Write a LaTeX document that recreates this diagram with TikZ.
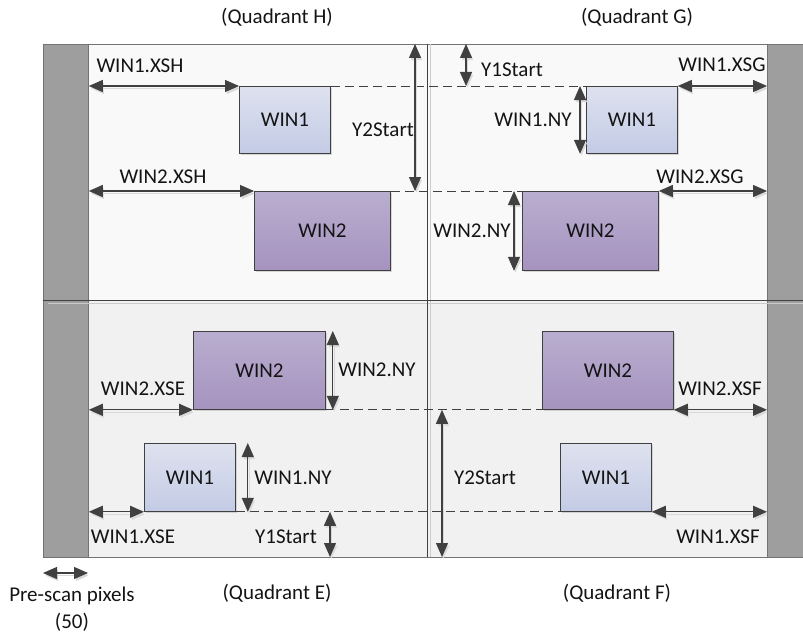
\documentclass[tikz,border=0pt]{standalone}
\usepackage{fontspec}
\setmainfont{Carlito}
\usetikzlibrary{arrows.meta,shadows}
\definecolor{txt}{HTML}{141414}
\definecolor{lnc}{HTML}{404040}
\definecolor{barc}{HTML}{9E9E9E}
\definecolor{qtop}{HTML}{F9F9F9}
\definecolor{qbot}{HTML}{F1F1F1}
\definecolor{wonetop}{HTML}{DEE2EF}
\definecolor{wonebot}{HTML}{C3CBE5}
\definecolor{wtwotop}{HTML}{B9AECF}
\definecolor{wtwobot}{HTML}{A593BF}
\begin{document}
\begin{tikzpicture}[x=1pt,y=-1pt,
    every node/.style={font=\fontsize{21}{25}\selectfont,text=txt,inner sep=0pt},
    win/.style={draw=lnc,line width=0.8pt,anchor=north west,
        drop shadow={shadow xshift=2pt,shadow yshift=-2pt,fill=black!30}},
    winone/.style={win,top color=wonetop,bottom color=wonebot,minimum width=91,minimum height=67},
    wintwo/.style={win,top color=wtwotop,bottom color=wtwobot,minimum width=136,minimum height=79},
    sidebar/.style={draw=black!55,fill=barc,line width=0.8pt,anchor=north west,minimum height=513},
    dim/.style={{Triangle[length=14pt,width=12pt]}-{Triangle[length=14pt,width=12pt]},draw=lnc,line width=1.2pt,
        preaction={draw=black!15,transform canvas={shift={(1.5pt,-2.5pt)}}}},
    guide/.style={draw=lnc,line width=0.8pt,dash pattern=on 9pt off 5pt}]
    \useasboundingbox (0,0) rectangle (803,634);
    % quadrants and frame
    \fill[qtop] (88,44) rectangle (767,300);
    \fill[qbot] (88,300) rectangle (767,557);
    \draw[black!55,line width=0.8pt] (43,44) rectangle (830,557);
    \node[sidebar,minimum width=45] (lbar) at (43,44) {};
    \node[sidebar,minimum width=60] (rbar) at (767,44) {};
    \draw[black!20,line width=1pt] (48,303) -- (803,303);
    \draw[black!20,line width=1pt] (430,44) -- (430,557);
    \draw[lnc,line width=1pt] (43,300) -- (803,300);
    \draw[lnc,line width=1pt] (427,44) -- (427,557);
    % windows
    \node[winone] (h1) at (239,86) {WIN1};
    \node[wintwo] (h2) at (254,191) {WIN2};
    \node[winone] (g1) at (586,86) {WIN1};
    \node[wintwo] (g2) at (522,191) {WIN2};
    \node[wintwo,minimum width=132,minimum height=78] (e2) at (193,331) {WIN2};
    \node[winone,minimum height=68] (e1) at (144,443) {WIN1};
    \node[wintwo,minimum width=131,minimum height=78] (f2) at (542,331) {WIN2};
    \node[winone,minimum height=68] (f1) at (560,443) {WIN1};
    % guides
    \draw[guide] (h1.north east) -- (g1.north west);
    \draw[guide] (h2.north east) -- (g2.north west);
    \draw[guide] (e2.south east) -- (f2.south west);
    \draw[guide] (e1.south east) -- (f1.south west);
    % dimensions
    \coordinate (yth) at (415,44);
    \coordinate (yog) at (466,44);
    \coordinate (yoe) at (330,557);
    \coordinate (ytf) at (442,557);
    \coordinate (pa) at (43,573);
    \coordinate (pb) at (88,573);
    \draw[dim] (h1.north west -| lbar.east) -- (h1.north west);
    \draw[dim] (h2.north west -| lbar.east) -- (h2.north west);
    \draw[dim] (yth) -- (yth |- h2.north);
    \draw[dim] (yog) -- (yog |- g1.north);
    \draw[dim] (g1.north east) -- (g1.north east -| rbar.west);
    \draw[dim] (g2.north east) -- (g2.north east -| rbar.west);
    \draw[dim] ([xshift=-6pt]g1.north west) -- ([xshift=-6pt]g1.south west);
    \draw[dim] ([xshift=-8pt]g2.north west) -- ([xshift=-8pt]g2.south west);
    \draw[dim] ([xshift=7pt]e2.north east) -- ([xshift=7pt]e2.south east);
    \draw[dim] ([xshift=12pt]e1.north east) -- ([xshift=12pt]e1.south east);
    \draw[dim] (e2.south west -| lbar.east) -- (e2.south west);
    \draw[dim] (e1.south west -| lbar.east) -- (e1.south west);
    \draw[dim] (yoe |- e1.south) -- (yoe);
    \draw[dim] (ytf |- f2.south) -- (ytf);
    \draw[dim] (f2.south east) -- (f2.south east -| rbar.west);
    \draw[dim] (f1.south east) -- (f1.south east -| rbar.west);
    \draw[dim] (pa) -- (pb);
    % labels
    \node (qh) at (277,17) {(Quadrant H)};
    \node (qg) at (637,17) {(Quadrant G)};
    \node (qe) at (277,593) {(Quadrant E)};
    \node (qf) at (617,593) {(Quadrant F)};
    \node (pre) at (72,596) {Pre-scan pixels};
    \node (pren) at (72,622) {(50)};
    \node (lxsh1) at (140,66) {WIN1.XSH};
    \node (lxsh2) at (163,177) {WIN2.XSH};
    \node (lyth) at (383,130) {Y2Start};
    \node (lyog) at (512,70) {Y1Start};
    \node (lxsg1) at (722,65) {WIN1.XSG};
    \node (lxsg2) at (700,177) {WIN2.XSG};
    \node (lnyg1) at (533,120) {WIN1.NY};
    \node (lnyg2) at (472,231) {WIN2.NY};
    \node (lnye2) at (377,370) {WIN2.NY};
    \node (lnye1) at (293,478) {WIN1.NY};
    \node (lxse2) at (143,389) {WIN2.XSE};
    \node (lxse1) at (133,537) {WIN1.XSE};
    \node (lyoe) at (286,537) {Y1Start};
    \node (lytf) at (485,478) {Y2Start};
    \node (lxsf2) at (720,389) {WIN2.XSF};
    \node (lxsf1) at (718,537) {WIN1.XSF};
\end{tikzpicture}
\end{document}
